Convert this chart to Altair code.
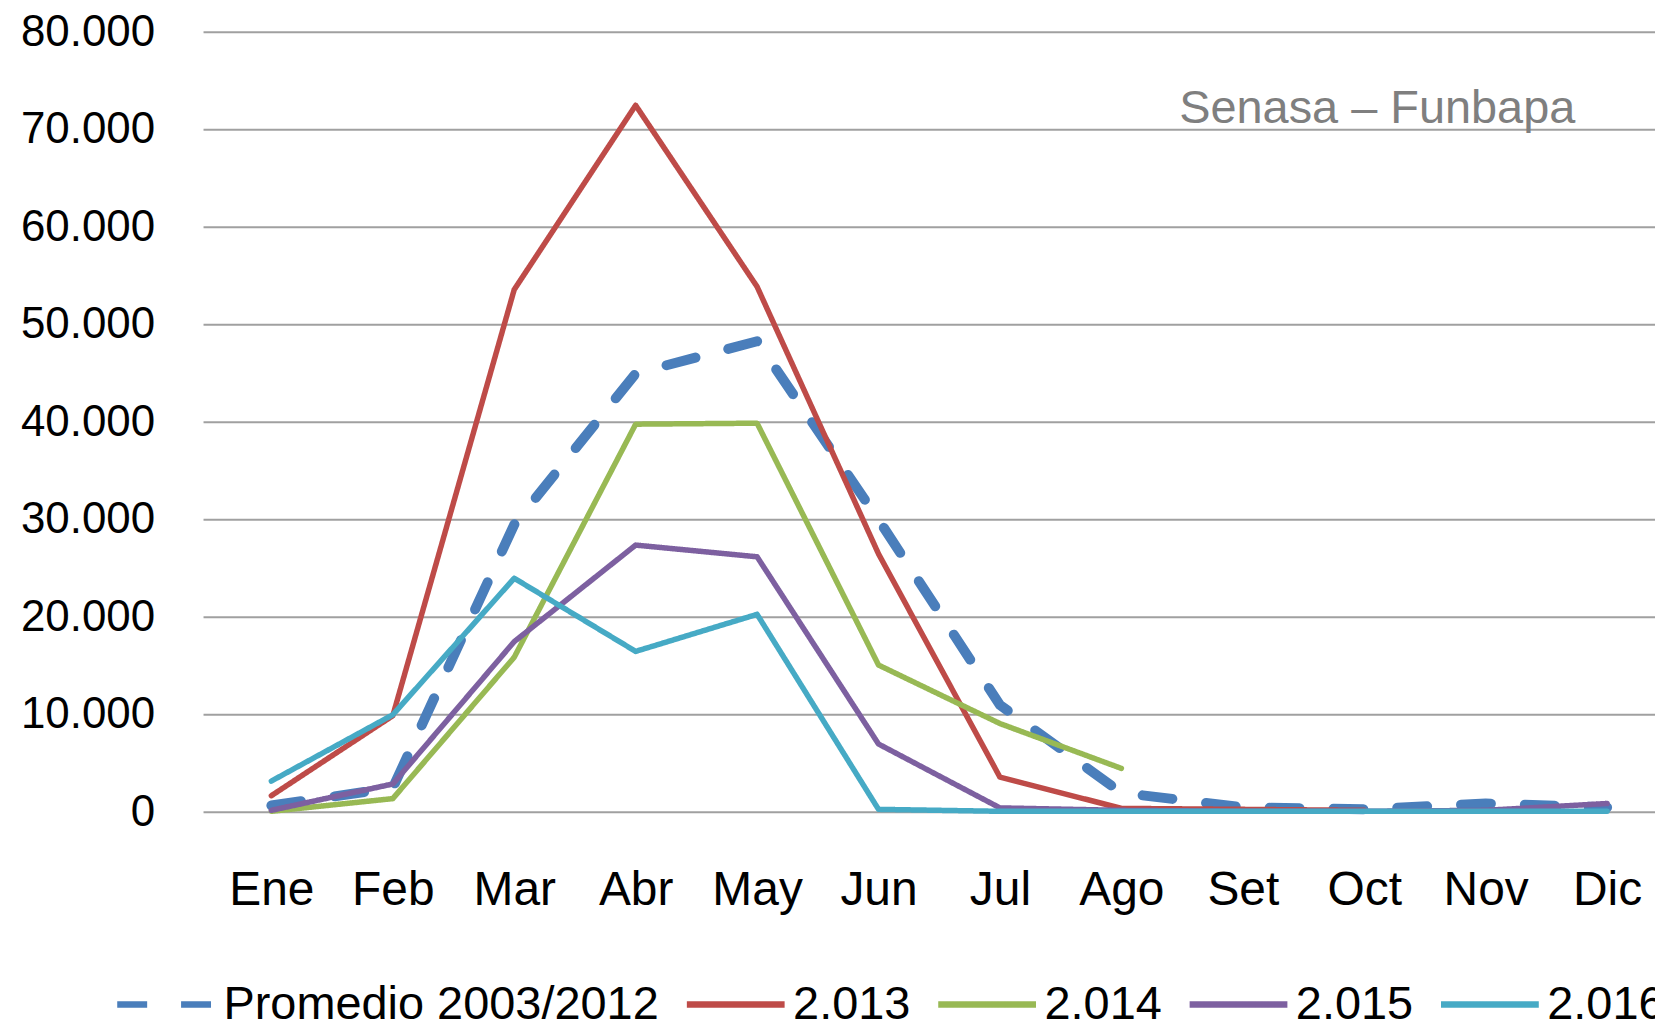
import altair as alt
import pandas as pd

months = ["Ene", "Feb", "Mar", "Abr", "May", "Jun", "Jul", "Ago", "Set", "Oct", "Nov", "Dic"]
series_names = ["Promedio 2003/2012", "2.013", "2.014", "2.015", "2.016"]

promedio = [700, 2500, 29500, 45000, 48300, 30000, 11000, 2000, 500, 300, 900, 500]
s2013 = [1700, 9900, 53600, 72500, 53900, 26500, 3600, 400, 300, 200, None, None]
s2014 = [100, 1400, 15900, 39800, 39900, 15100, 9100, 4500, None, None, None, None]
s2015 = [200, 2900, 17500, 27400, 26200, 7000, 450, 200, 100, 100, 200, 900]
s2016 = [3200, 10000, 24000, 16500, 20300, 300, 100, 100, 100, 100, 100, 100]

colors = ["#4A7EBB", "#BE4B48", "#98B954", "#7D60A0", "#46AAC5"]
dashes = [[30, 34], [1, 0], [1, 0], [1, 0], [1, 0]]
y_ticks = [0, 10000, 20000, 30000, 40000, 50000, 60000, 70000, 80000]
note = "Senasa – Funbapa"

W = 1455
H = 782

rows = []
for name, vals in zip(series_names, [promedio, s2013, s2014, s2015, s2016]):
    for m, v in zip(months, vals):
        if v is not None:
            rows.append({"Mes": m, "Serie": name, "Valor": v})
df = pd.DataFrame(rows)

leg = alt.Legend(
    title=None,
    orient="none",
    legendX=-90,
    legendY=922,
    direction="horizontal",
    symbolType="stroke",
    symbolSize=9604,
    symbolStrokeWidth=6.5,
    labelFont="Liberation Sans",
    labelFontSize=47,
    labelColor="#000000",
    labelOffset=5,
    columnPadding=14,
    padding=0,
    labelLimit=1000,
)

yscale = alt.Scale(domain=[0, 80000], nice=False)
xscale = alt.Scale(type="point", domain=months, range=[68, 1407], padding=0)
cscale = alt.Scale(domain=series_names, range=colors)
dscale = alt.Scale(domain=series_names, range=dashes)

xaxis = alt.Axis(
    title=None, labelAngle=0, domain=False, ticks=False, tickSize=0,
    labelFont="Liberation Sans", labelFontSize=48, labelColor="#000000",
    labelPadding=54, grid=False,
)
yaxis = alt.Axis(
    title=None, values=y_ticks, domain=False, ticks=False, tickSize=0,
    labelFont="Liberation Sans", labelFontSize=44, labelColor="#000000",
    labelPadding=49, grid=False,
    labelExpr="replace(format(datum.value, ',d'), ',', '.')",
)

grid = alt.Chart(pd.DataFrame({"Valor": y_ticks})).mark_rule(
    color="#a0a0a0", strokeWidth=2
).encode(
    y=alt.Y("Valor:Q", scale=yscale, axis=yaxis),
    x=alt.value(0),
    x2=alt.value(W),
)

enc = dict(
    x=alt.X("Mes:N", sort=months, scale=xscale, axis=xaxis),
    y=alt.Y("Valor:Q", scale=yscale, axis=yaxis),
    color=alt.Color("Serie:N", scale=cscale, legend=leg),
    strokeDash=alt.StrokeDash("Serie:N", scale=dscale, legend=leg),
)

avg_line = alt.Chart(df).transform_filter(
    alt.datum.Serie == series_names[0]
).mark_line(strokeWidth=10, strokeCap="round", strokeJoin="round").encode(**enc)

year_lines = alt.Chart(df).transform_filter(
    alt.datum.Serie != series_names[0]
).mark_line(strokeWidth=5.5, strokeCap="round", strokeJoin="round").encode(**enc)

label = alt.Chart(pd.DataFrame({"t": [note]})).mark_text(
    align="left", baseline="alphabetic", font="Liberation Sans", fontSize=47, color="#7f7f7f"
).encode(x=alt.value(978), y=alt.value(91), text="t:N")

chart = alt.layer(grid, avg_line, year_lines, label).properties(
    width=W,
    height=H,
    autosize=alt.AutoSizeParams(type="none"),
    padding={"left": 196, "top": 23, "right": 0, "bottom": 210},
).configure_view(stroke=None)

chart.save("out.html", embed_options={"renderer": "svg", "actions": False})
